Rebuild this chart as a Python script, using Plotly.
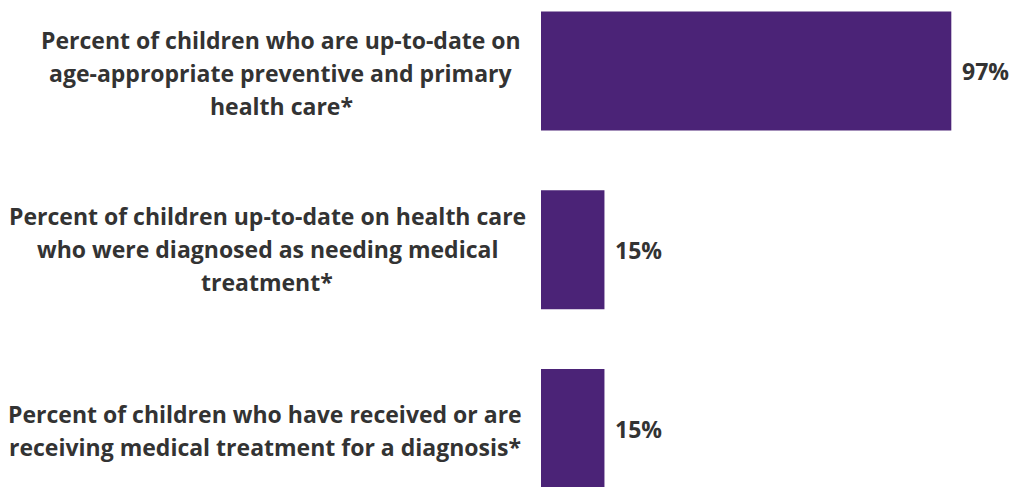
import plotly.graph_objects as go

category_lines = [
    ["Percent of children who are up-to-date on",
     "age-appropriate preventive and primary",
     "health care*"],
    ["Percent of children up-to-date on health care",
     "who were diagnosed as needing medical",
     "treatment*"],
    ["Percent of children who have received or are",
     "receiving medical treatment for a diagnosis*"],
]
values = [97, 15, 15]
value_labels = ["97%", "15%", "15%"]

BAR_COLOR = "#4B2377"
TEXT_COLOR = "#333333"
FONT = "Open Sans"
FSIZE = 23
LINE_H = 33
# horizontal centre of each label block relative to the axis start (px), vertical nudge (px)
block_xshift = [-260, -274, -276]
block_yshift = [-2, 1, -2]

fig = go.Figure()
fig.add_trace(go.Bar(
    x=values,
    y=list(range(len(values))),
    orientation="h",
    marker=dict(color=BAR_COLOR, line=dict(width=0)),
    width=0.666,
    hoverinfo="skip",
))

annotations = []
for i, (lines, v, lab) in enumerate(zip(category_lines, values, value_labels)):
    n = len(lines)
    for j, line in enumerate(lines):
        annotations.append(dict(
            x=0, y=i, xref="x", yref="y", text="<b>" + line + "</b>",
            showarrow=False, xanchor="center", yanchor="middle", align="center",
            xshift=block_xshift[i],
            yshift=((n - 1) / 2 - j) * LINE_H + block_yshift[i],
            font=dict(family=FONT, size=FSIZE, color=TEXT_COLOR),
        ))
    annotations.append(dict(
        x=v, y=i, xref="x", yref="y", text="<b>" + lab + "</b>",
        showarrow=False, xanchor="left", yanchor="middle",
        xshift=9, font=dict(family=FONT, size=FSIZE, color=TEXT_COLOR),
    ))

fig.update_layout(
    width=1013, height=487,
    margin=dict(l=541, r=49, t=0, b=0),
    paper_bgcolor="white", plot_bgcolor="white",
    showlegend=False,
    xaxis=dict(range=[0, 100], visible=False, fixedrange=True),
    yaxis=dict(range=[2.327, -0.397], visible=False, fixedrange=True),
    annotations=annotations,
)

fig.write_html("out.html")
